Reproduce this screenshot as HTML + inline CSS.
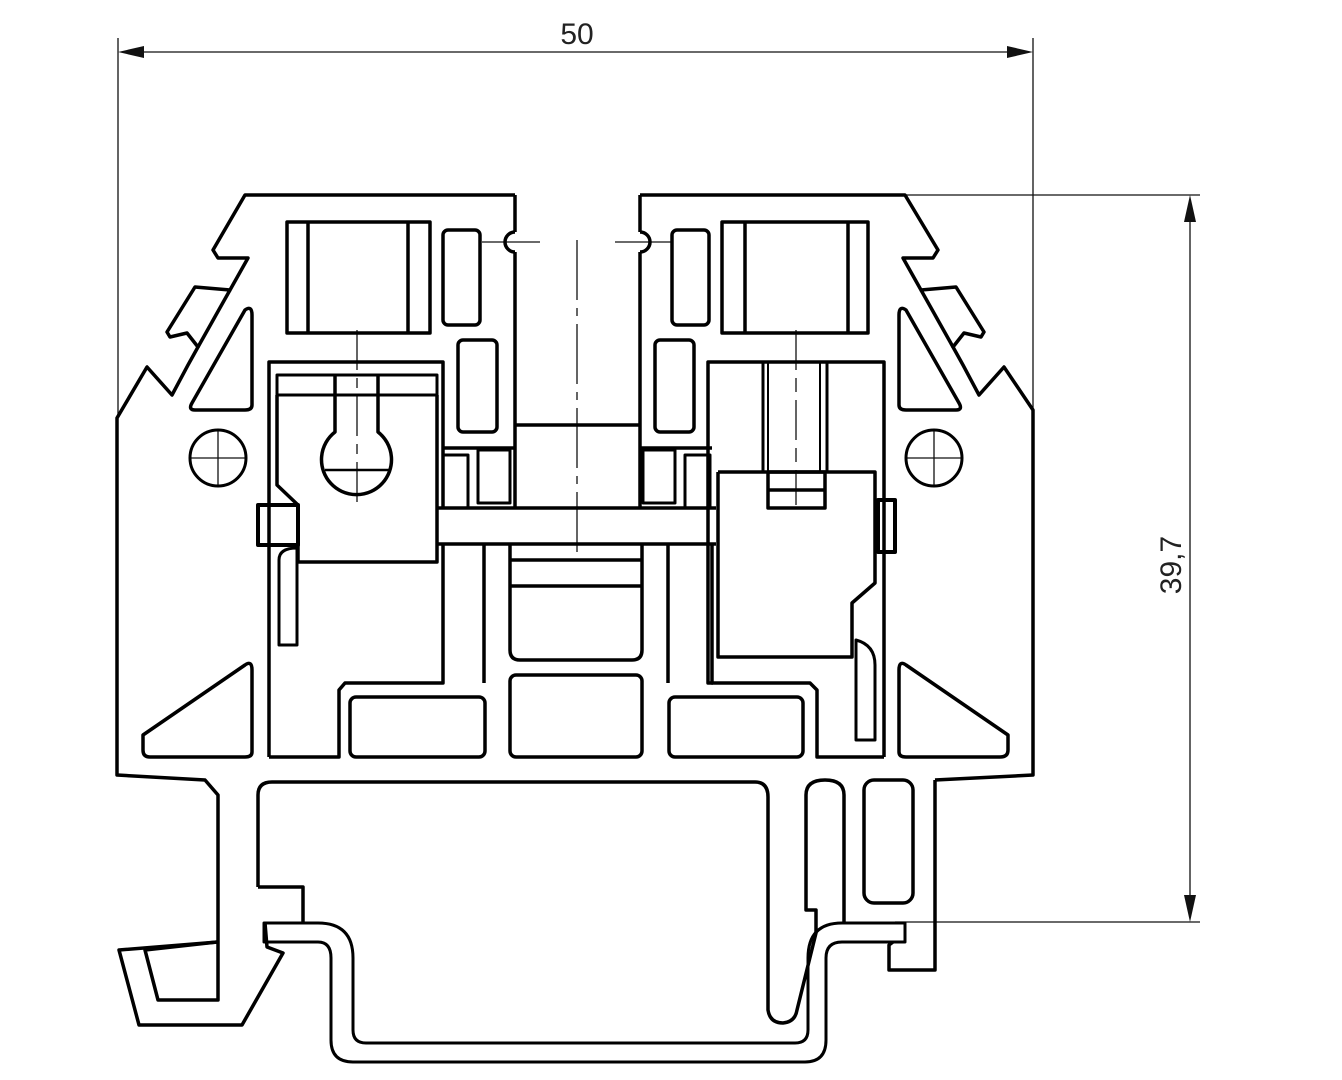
<!DOCTYPE html>
<html><head><meta charset="utf-8"><style>html,body{margin:0;padding:0;background:#fff}svg{display:block}</style></head>
<body>
<svg width="1342" height="1080" viewBox="0 0 1342 1080" xmlns="http://www.w3.org/2000/svg">
<g fill="none" stroke="#111" stroke-width="1.3">
<line x1="118" y1="38" x2="118" y2="418"/>
<line x1="1033" y1="38" x2="1033" y2="410"/>
<line x1="130" y1="52" x2="1020" y2="52"/>
<line x1="905" y1="195" x2="1200" y2="195"/>
<line x1="895" y1="922" x2="1200" y2="922"/>
<line x1="1190" y1="208" x2="1190" y2="910"/>
<line x1="482" y1="242" x2="540" y2="242"/>
<line x1="615" y1="242" x2="672" y2="242"/>
<line x1="577" y1="240" x2="577" y2="555" stroke-dasharray="60 8 8 8"/>
<line x1="357" y1="330" x2="357" y2="510" stroke-dasharray="40 8 10 8"/>
<line x1="796" y1="330" x2="796" y2="505" stroke-dasharray="40 8 14 8"/>
<line x1="190" y1="458" x2="246" y2="458"/><line x1="218" y1="430" x2="218" y2="486"/>
<line x1="906" y1="458" x2="962" y2="458"/><line x1="934" y1="430" x2="934" y2="486"/>
</g>
<g fill="#111">
<polygon points="118,52 144,46 144,58"/>
<polygon points="1033,52 1007,46 1007,58"/>
<polygon points="1190,195 1184,222 1196,222"/>
<polygon points="1190,922 1184,895 1196,895"/>
</g>
<text x="577" y="44" font-family="Liberation Sans, sans-serif" font-size="30" fill="#222" text-anchor="middle">50</text>
<text transform="translate(1181,565) rotate(-90)" font-family="Liberation Sans, sans-serif" font-size="30" fill="#222" text-anchor="middle">39,7</text>
<g fill="none" stroke="#000" stroke-width="3.5" stroke-linejoin="round">
<!-- outer body left -->
<polyline points="515,195 245,195 213,250 218,258 248,258 230,290 195,287 167,332 170,337 187,333 198,347 188,365 172,395 147,367 117,418 117,775 205,780 218,795 218,1000 158,1000 145,950 217,942"/>
<line x1="230" y1="290" x2="198" y2="347"/>
<polyline points="218,942 119,950 139,1025 242,1025 283,953 267,947 265,923"/>
<polyline points="893,942 889,945 889,970 935,970 935,780"/>
<!-- outer body right -->
<polyline points="640,195 905,195 938,250 933,258 903,258 921,290 956,287 984,332 981,337 964,333 953,347 963,365 979,395 1004,367 1033,410 1033,775 935,780"/>
<line x1="921" y1="290" x2="953" y2="347"/>
<!-- slot walls -->
<line x1="515" y1="195" x2="515" y2="232"/><line x1="515" y1="252" x2="515" y2="508"/>
<path d="M515,232 A10,10 0 0 0 515,252"/>
<line x1="640" y1="195" x2="640" y2="232"/><line x1="640" y1="252" x2="640" y2="508"/>
<path d="M640,232 A10,10 0 0 1 640,252"/>
<line x1="515" y1="425" x2="640" y2="425"/>
<!-- triangles -->
<path d="M245,310 Q252,305 252,315 L252,405 Q252,410 245,410 L195,410 Q188,410 192,403 Z"/>
<path d="M906,310 Q899,305 899,315 L899,405 Q899,410 906,410 L956,410 Q963,410 959,403 Z"/>
<path d="M245,665 Q252,660 252,670 L252,752 Q252,757 245,757 L150,757 Q143,757 143,750 L143,735 Z"/>
<path d="M906,665 Q899,660 899,670 L899,752 Q899,757 906,757 L1000,757 Q1008,757 1008,750 L1008,735 Z"/>
<circle cx="218" cy="458" r="28" stroke-width="3"/>
<circle cx="934" cy="458" r="28" stroke-width="3"/>
<!-- upper rects -->
<rect x="287" y="222" width="143" height="111"/><line x1="308" y1="222" x2="308" y2="333"/><line x1="408" y1="222" x2="408" y2="333"/>
<rect x="722" y="222" width="146" height="111"/><line x1="745" y1="222" x2="745" y2="333"/><line x1="848" y1="222" x2="848" y2="333"/>
<rect x="443" y="230" width="37" height="95" rx="5"/>
<rect x="458" y="340" width="39" height="92" rx="5"/>
<rect x="672" y="230" width="37" height="95" rx="5"/>
<rect x="655" y="340" width="39" height="92" rx="5"/>
<!-- left clamp frame -->
<polyline points="269,757 269,362 443,362 443,508"/>
<rect x="277" y="375" width="160" height="20" stroke-width="3"/>
<polyline points="277,395 277,485 298,505 298,562 437,562 437,395"/>
<path d="M335,375 L335,432 A35,35 0 1 0 378,432 L378,375"/>
<line x1="325" y1="470" x2="390" y2="470" stroke-width="2.5"/>
<rect x="258" y="505" width="40" height="40" stroke-width="4"/>
<path d="M279,645 L279,560 Q279,548 297,548 L297,645 Z" stroke-width="3"/>
<!-- center -->
<line x1="437" y1="508" x2="716" y2="508"/><line x1="437" y1="544" x2="716" y2="544"/>
<rect x="443" y="455" width="25" height="53" stroke-width="3"/>
<rect x="478" y="450" width="32" height="53" stroke-width="3"/>
<rect x="685" y="455" width="25" height="53" stroke-width="3"/>
<rect x="643" y="450" width="32" height="53" stroke-width="3"/>
<line x1="443" y1="448" x2="515" y2="448"/><line x1="640" y1="448" x2="712" y2="448"/>
<path d="M510,544 L510,650 Q510,660 520,660 L632,660 Q642,660 642,650 L642,544"/>
<line x1="510" y1="560" x2="642" y2="560"/><line x1="510" y1="586" x2="642" y2="586"/>
<rect x="510" y="675" width="132" height="82" rx="6"/>
<rect x="350" y="697" width="135" height="60" rx="6"/>
<rect x="669" y="697" width="134" height="60" rx="6"/>
<polyline points="443,544 443,683 345,683 339,690 339,757 269,757"/>
<polyline points="712,544 712,683 810,683 817,690 817,757 884,757"/>
<line x1="484" y1="544" x2="484" y2="683"/><line x1="668" y1="544" x2="668" y2="683"/>
<!-- right clamp -->
<polyline points="713,683 708,683 708,362 884,362 884,757"/>
<polyline points="718,472 875,472 875,583 852,603 852,657 718,657 718,472"/>
<line x1="763" y1="362" x2="763" y2="472" stroke-width="3"/><line x1="768" y1="362" x2="768" y2="472" stroke-width="2"/>
<line x1="820" y1="362" x2="820" y2="472" stroke-width="2"/><line x1="827" y1="362" x2="827" y2="472" stroke-width="3"/>
<rect x="768" y="472" width="57" height="36"/><line x1="768" y1="490" x2="825" y2="490"/>
<rect x="878" y="500" width="17" height="52" stroke-width="4"/>
<path d="M856,740 L856,640 Q875,645 875,665 L875,740 Z" stroke-width="3"/>
<!-- lower slot -->
<path d="M258,887 L258,795 Q258,782 272,782 L755,782 Q768,782 768,797 L768,1010 Q770,1023 783,1023 Q795,1022 797,1010 L816,933 L816,910 L806,910 L806,795 Q806,780 825,780 Q844,780 844,795 L844,923"/>
<polyline points="258,887 303,887 303,923"/>
<rect x="864" y="780" width="49" height="123" rx="10"/>
<!-- DIN rail -->
<path d="M264,942 L318,942 Q331,942 331,958 L331,1040 Q331,1062 353,1062 L805,1062 Q826,1062 826,1040 L826,958 Q826,942 842,942 L905,942 L905,923 L842,923 Q808,923 808,958 L808,1030 Q808,1043 795,1043 L366,1043 Q353,1043 353,1030 L353,958 Q353,923 318,923 L264,923 Z" stroke-width="3"/>
</g>
</svg>
</body></html>
